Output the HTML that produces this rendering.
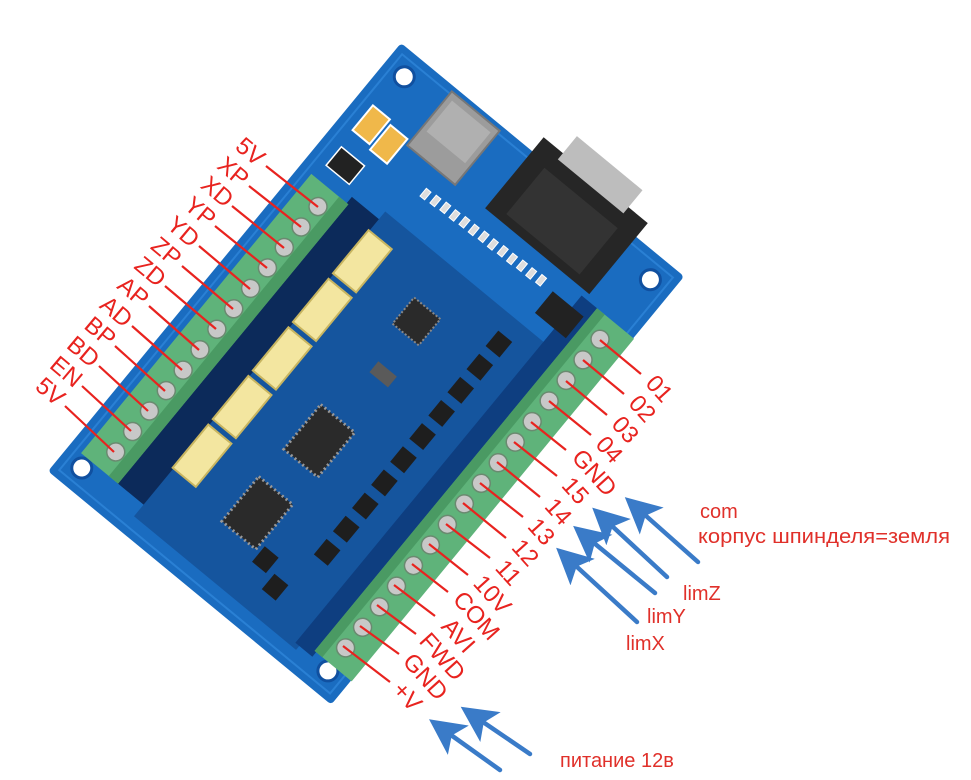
<!DOCTYPE html>
<html><head><meta charset="utf-8"><style>
html,body{margin:0;padding:0;background:#fff;width:971px;height:780px;overflow:hidden}
svg{display:block}
.l{font-family:"Liberation Sans",sans-serif;font-size:24px;fill:#e8231f;text-anchor:middle;dominant-baseline:central}
.t{font-family:"Liberation Sans",sans-serif;font-size:20px;fill:#e0302a}
</style></head><body>
<svg width="971" height="780" viewBox="0 0 971 780" xmlns="http://www.w3.org/2000/svg">
<defs>
<marker id="ah" markerWidth="8" markerHeight="8" refX="2" refY="4" orient="auto" markerUnits="strokeWidth">
<path d="M8,4 L0,0 L1.8,4 L0,8 Z" fill="#3a7bc8"/>
</marker>
</defs>
<g transform="translate(401,43) rotate(39.5)">
 <rect x="0" y="0" width="367" height="555" rx="4" fill="#1a6cc0"/>
 <rect x="8" y="8" width="351" height="539" fill="none" stroke="#2a80d4" stroke-width="2"/>
 <circle cx="24" cy="24" r="10" fill="#fff" stroke="#1050a0" stroke-width="3"/>
 <circle cx="343" cy="24" r="10" fill="#fff" stroke="#1050a0" stroke-width="3"/>
 <circle cx="24" cy="531" r="10" fill="#fff" stroke="#1050a0" stroke-width="3"/>
 <circle cx="343" cy="531" r="10" fill="#fff" stroke="#1050a0" stroke-width="3"/>
 <rect x="60" y="150" width="36" height="370" fill="#0c2a5a"/>
 <rect x="95" y="140" width="210" height="395" fill="#15559e"/>
 <rect x="300" y="80" width="22" height="450" fill="#0e3e80"/>
 <rect x="14" y="158" width="48" height="362" fill="#5fb37a"/>
 <rect x="50" y="158" width="12" height="362" fill="#4a9a63"/>
 <g fill="#c8c8c8" stroke="#6a8a70" stroke-width="1.5">
  <circle cx="40" cy="179" r="9"/><circle cx="40" cy="205.5" r="9"/><circle cx="40" cy="232" r="9"/><circle cx="40" cy="258.5" r="9"/><circle cx="40" cy="285" r="9"/><circle cx="40" cy="311.5" r="9"/><circle cx="40" cy="338" r="9"/><circle cx="40" cy="364.5" r="9"/><circle cx="40" cy="391" r="9"/><circle cx="40" cy="417.5" r="9"/><circle cx="40" cy="444" r="9"/><circle cx="40" cy="470.5" r="9"/><circle cx="40" cy="497" r="9"/>
 </g>
 <g fill="#f3e6a0" stroke="#c8b560" stroke-width="2">
  <rect x="94" y="165" width="30" height="56"/><rect x="94" y="228" width="30" height="56"/><rect x="94" y="291" width="30" height="56"/><rect x="94" y="354" width="30" height="56"/><rect x="94" y="417" width="30" height="56"/>
 </g>
 <rect x="18" y="66" width="22" height="32" fill="#f0b84a" stroke="#fff" stroke-width="2"/>
 <rect x="44" y="70" width="22" height="32" fill="#f0b84a" stroke="#fff" stroke-width="2"/>
 <rect x="20" y="118" width="30" height="24" fill="#222" stroke="#fff" stroke-width="1.5"/>
 <rect x="70" y="5" width="62" height="70" fill="#9c9c9c" stroke="#777" stroke-width="2"/>
 <rect x="76" y="12" width="50" height="40" fill="#b0b0b0"/>
 <rect x="170" y="-18" width="135" height="92" fill="#262626"/>
 <rect x="195" y="-40" width="85" height="30" fill="#bdbdbd"/>
 <rect x="190" y="5" width="95" height="60" fill="#333"/>
 <g fill="#ddd" stroke="#fff" stroke-width="1">
  <rect x="112" y="96" width="6" height="10"/><rect x="124" y="95" width="6" height="10"/><rect x="136" y="94" width="6" height="10"/><rect x="148" y="94" width="6" height="10"/><rect x="160" y="93" width="6" height="10"/><rect x="172" y="93" width="6" height="10"/><rect x="184" y="92" width="6" height="10"/><rect x="196" y="92" width="6" height="10"/><rect x="208" y="91" width="6" height="10"/><rect x="220" y="91" width="6" height="10"/><rect x="232" y="90" width="6" height="10"/><rect x="244" y="90" width="6" height="10"/><rect x="256" y="89" width="6" height="10"/>
 </g>
 <rect x="275" y="95" width="40" height="28" fill="#222"/>
 <rect x="172" y="188" width="34" height="34" fill="#2a2a2a" stroke="#888" stroke-width="2" stroke-dasharray="2 2"/>
 <rect x="168" y="330" width="44" height="58" fill="#2a2a2a" stroke="#999" stroke-width="3" stroke-dasharray="2 3"/>
 <rect x="166" y="425" width="44" height="58" fill="#2a2a2a" stroke="#999" stroke-width="3" stroke-dasharray="2 3"/>
 <rect x="185" y="260" width="24" height="14" fill="#5a5a5a"/>
 <g fill="#1e1e1e">
  <rect x="258" y="160" width="18" height="20"/><rect x="258" y="190" width="18" height="20"/><rect x="258" y="220" width="18" height="20"/><rect x="258" y="250" width="18" height="20"/><rect x="258" y="280" width="18" height="20"/><rect x="258" y="310" width="18" height="20"/><rect x="258" y="340" width="18" height="20"/><rect x="258" y="370" width="18" height="20"/><rect x="258" y="400" width="18" height="20"/><rect x="258" y="430" width="18" height="20"/>
  <rect x="215" y="475" width="18" height="20"/><rect x="240" y="490" width="18" height="20"/>
 </g>
 <rect x="320" y="80" width="48" height="444" fill="#5fb37a"/>
 <rect x="320" y="80" width="10" height="444" fill="#4a9a63"/>
 <g fill="#c8c8c8" stroke="#6a8a70" stroke-width="1.5">
  <circle cx="342" cy="102" r="9"/><circle cx="342" cy="128.7" r="9"/><circle cx="342" cy="155.3" r="9"/><circle cx="342" cy="182" r="9"/><circle cx="342" cy="208.7" r="9"/><circle cx="342" cy="235.3" r="9"/><circle cx="342" cy="262" r="9"/><circle cx="342" cy="288.7" r="9"/><circle cx="342" cy="315.3" r="9"/><circle cx="342" cy="342" r="9"/><circle cx="342" cy="368.7" r="9"/><circle cx="342" cy="395.3" r="9"/><circle cx="342" cy="422" r="9"/><circle cx="342" cy="448.7" r="9"/><circle cx="342" cy="475.3" r="9"/><circle cx="342" cy="502" r="9"/>
 </g>
</g>
<g stroke="#e8231f" stroke-width="2.2">
 <line x1="318" y1="207" x2="266" y2="166"/><line x1="301" y1="227" x2="249" y2="186"/><line x1="284" y1="248" x2="232" y2="206"/><line x1="267" y1="268" x2="215" y2="226"/><line x1="250" y1="289" x2="199" y2="246"/><line x1="233" y1="309" x2="182" y2="266"/><line x1="216" y1="329" x2="165" y2="286"/><line x1="199" y1="350" x2="149" y2="306"/><line x1="182" y1="370" x2="132" y2="326"/><line x1="165" y1="391" x2="115" y2="346"/><line x1="148" y1="411" x2="99" y2="366"/><line x1="131" y1="431" x2="82" y2="386"/><line x1="114" y1="452" x2="65" y2="406"/>
</g>
<g>
 <text class="l" transform="translate(250,152) rotate(40)">5V</text>
 <text class="l" transform="translate(233,172) rotate(40)">XP</text>
 <text class="l" transform="translate(217,192) rotate(40)">XD</text>
 <text class="l" transform="translate(200,212) rotate(40)">YP</text>
 <text class="l" transform="translate(183,232) rotate(40)">YD</text>
 <text class="l" transform="translate(166,252) rotate(40)">ZP</text>
 <text class="l" transform="translate(150,272) rotate(40)">ZD</text>
 <text class="l" transform="translate(133,292) rotate(40)">AP</text>
 <text class="l" transform="translate(116,312) rotate(40)">AD</text>
 <text class="l" transform="translate(100,332) rotate(40)">BP</text>
 <text class="l" transform="translate(83,352) rotate(40)">BD</text>
 <text class="l" transform="translate(66,372) rotate(40)">EN</text>
 <text class="l" transform="translate(50,392) rotate(40)">5V</text>
</g>
<g stroke="#e8231f" stroke-width="2.2">
 <line x1="600" y1="340" x2="641" y2="374"/><line x1="583" y1="360" x2="624" y2="394"/><line x1="566" y1="381" x2="607" y2="415"/><line x1="549" y1="401" x2="591" y2="435"/><line x1="531" y1="422" x2="566" y2="450"/><line x1="514" y1="442" x2="557" y2="476"/><line x1="497" y1="462" x2="540" y2="497"/><line x1="480" y1="483" x2="523" y2="517"/><line x1="463" y1="503" x2="506" y2="538"/><line x1="446" y1="524" x2="490" y2="558"/><line x1="429" y1="544" x2="468" y2="575"/><line x1="412" y1="564" x2="448" y2="592"/><line x1="394" y1="585" x2="435" y2="616"/><line x1="377" y1="605" x2="416" y2="634"/><line x1="360" y1="626" x2="399" y2="654"/><line x1="343" y1="646" x2="390" y2="682"/>
</g>
<g>
 <text class="l" transform="translate(659,389) rotate(48)">01</text>
 <text class="l" transform="translate(642,409) rotate(48)">02</text>
 <text class="l" transform="translate(625,430) rotate(48)">03</text>
 <text class="l" transform="translate(609,450) rotate(48)">04</text>
 <text class="l" transform="translate(594,473) rotate(48)">GND</text>
 <text class="l" transform="translate(575,491) rotate(48)">15</text>
 <text class="l" transform="translate(558,512) rotate(48)">14</text>
 <text class="l" transform="translate(541,532) rotate(48)">13</text>
 <text class="l" transform="translate(525,553) rotate(48)">12</text>
 <text class="l" transform="translate(508,573) rotate(48)">11</text>
 <text class="l" transform="translate(492,595) rotate(48)">10V</text>
 <text class="l" transform="translate(476,616) rotate(48)">COM</text>
 <text class="l" transform="translate(458,636) rotate(48)">AVI</text>
 <text class="l" transform="translate(442,657) rotate(48)">FWD</text>
 <text class="l" transform="translate(425,677) rotate(48)">GND</text>
 <text class="l" transform="translate(407,697) rotate(48)">+V</text>
</g>
<g stroke="#3a7bc8" stroke-width="4.5" stroke-linecap="round" marker-end="url(#ah)">
 <line x1="698" y1="562" x2="645" y2="515"/>
 <line x1="667" y1="577" x2="612" y2="526"/>
 <line x1="655" y1="593" x2="594" y2="543"/>
 <line x1="637" y1="622" x2="576" y2="566"/>
 <line x1="530" y1="754" x2="483" y2="722"/>
 <line x1="500" y1="770" x2="451" y2="735"/>
</g>
<text class="t" x="700" y="518">com</text>
<text class="t" x="698" y="543" textLength="252" lengthAdjust="spacingAndGlyphs">корпус шпинделя=земля</text>
<text class="t" x="683" y="600">limZ</text>
<text class="t" x="647" y="623">limY</text>
<text class="t" x="626" y="650">limX</text>
<text class="t" x="560" y="767">питание 12в</text>
</svg>
</body></html>
